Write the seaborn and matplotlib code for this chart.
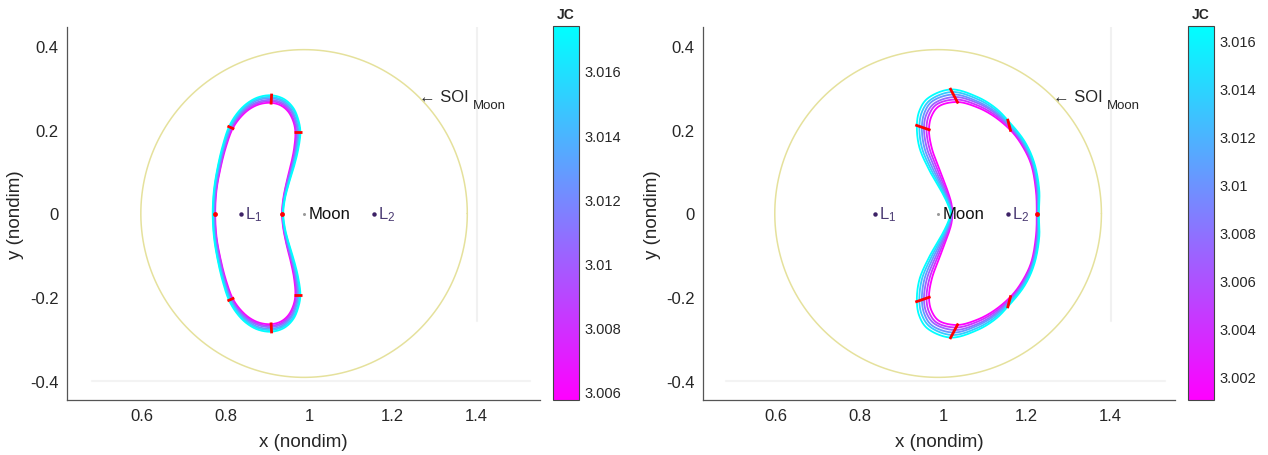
import numpy as np
import pandas as pd
import matplotlib
matplotlib.use("Agg")
import matplotlib.pyplot as plt
import seaborn as sns
from matplotlib.colors import Normalize
from matplotlib.cm import ScalarMappable

# ---------------- data ----------------
L1_X, L2_X, MOON_X = 0.8369, 1.1557, 0.98785
SOI_RADIUS = 0.391

# Left panel: family of orbits (upper half control points, mirrored in y)
left_jc = [3.0058, 3.0081, 3.0104, 3.0127, 3.0150, 3.0174]
left_x = [
    [0.935, 0.938, 0.946, 0.956, 0.964, 0.967, 0.962, 0.950, 0.932, 0.909, 0.882, 0.857, 0.835, 0.817, 0.801, 0.788, 0.778, 0.775],
    [0.936, 0.939, 0.947, 0.958, 0.966, 0.969, 0.964, 0.952, 0.934, 0.909, 0.881, 0.855, 0.833, 0.815, 0.799, 0.787, 0.777, 0.774],
    [0.936, 0.940, 0.948, 0.959, 0.968, 0.972, 0.967, 0.955, 0.935, 0.909, 0.880, 0.854, 0.831, 0.813, 0.798, 0.785, 0.776, 0.773],
    [0.937, 0.940, 0.950, 0.961, 0.970, 0.974, 0.969, 0.957, 0.937, 0.910, 0.879, 0.852, 0.830, 0.812, 0.796, 0.784, 0.774, 0.771],
    [0.937, 0.941, 0.951, 0.962, 0.972, 0.977, 0.972, 0.960, 0.938, 0.910, 0.878, 0.851, 0.828, 0.810, 0.795, 0.782, 0.773, 0.770],
    [0.938, 0.942, 0.952, 0.964, 0.974, 0.979, 0.974, 0.962, 0.940, 0.910, 0.877, 0.849, 0.826, 0.808, 0.793, 0.781, 0.772, 0.769],
]
left_y = [
    [0.000, 0.035, 0.075, 0.115, 0.155, 0.195, 0.220, 0.243, 0.258, 0.264, 0.261, 0.249, 0.229, 0.203, 0.160, 0.110, 0.055, 0.000],
    [0.000, 0.035, 0.075, 0.115, 0.155, 0.195, 0.221, 0.245, 0.261, 0.268, 0.264, 0.251, 0.231, 0.204, 0.160, 0.110, 0.055, 0.000],
    [0.000, 0.035, 0.075, 0.114, 0.155, 0.195, 0.222, 0.247, 0.264, 0.271, 0.267, 0.254, 0.232, 0.205, 0.161, 0.110, 0.055, 0.000],
    [0.000, 0.035, 0.074, 0.114, 0.154, 0.195, 0.222, 0.248, 0.267, 0.275, 0.271, 0.256, 0.234, 0.205, 0.161, 0.111, 0.056, 0.000],
    [0.000, 0.035, 0.074, 0.113, 0.154, 0.195, 0.223, 0.250, 0.270, 0.278, 0.274, 0.259, 0.235, 0.206, 0.162, 0.111, 0.056, 0.000],
    [0.000, 0.035, 0.074, 0.113, 0.154, 0.195, 0.224, 0.252, 0.273, 0.282, 0.277, 0.261, 0.237, 0.207, 0.162, 0.111, 0.056, 0.000],
]
left_marks = [5, 9, 13]
left_dots = [0, 17]
left_clim = (3.00575, 3.0174)
left_cticks = [3.006, 3.008, 3.010, 3.012, 3.014, 3.016]
left_ctlabels = ["3.006", "3.008", "3.01", "3.012", "3.014", "3.016"]

# Right panel
right_jc = [3.0010, 3.0041, 3.0072, 3.0103, 3.0134, 3.0166]
right_x = [
    [1.022, 1.020, 1.013, 0.992, 0.973, 0.966, 0.972, 0.990, 1.034, 1.080, 1.120, 1.161, 1.186, 1.210, 1.222, 1.224],
    [1.021, 1.018, 1.010, 0.987, 0.967, 0.960, 0.966, 0.984, 1.031, 1.080, 1.121, 1.160, 1.188, 1.212, 1.224, 1.225],
    [1.020, 1.016, 1.007, 0.982, 0.961, 0.954, 0.960, 0.979, 1.028, 1.081, 1.122, 1.159, 1.190, 1.213, 1.225, 1.226],
    [1.020, 1.015, 1.005, 0.977, 0.955, 0.949, 0.955, 0.973, 1.024, 1.081, 1.123, 1.157, 1.191, 1.215, 1.227, 1.227],
    [1.019, 1.013, 1.002, 0.972, 0.949, 0.943, 0.949, 0.968, 1.021, 1.082, 1.124, 1.156, 1.193, 1.216, 1.228, 1.228],
    [1.018, 1.011, 0.999, 0.967, 0.943, 0.937, 0.943, 0.962, 1.018, 1.082, 1.125, 1.155, 1.195, 1.218, 1.230, 1.229],
]
right_y = [
    [0.000, 0.022, 0.047, 0.103, 0.155, 0.200, 0.232, 0.256, 0.266, 0.254, 0.233, 0.199, 0.167, 0.119, 0.055, 0.000],
    [0.000, 0.022, 0.047, 0.103, 0.156, 0.202, 0.235, 0.260, 0.272, 0.259, 0.237, 0.204, 0.168, 0.119, 0.055, 0.000],
    [0.000, 0.022, 0.047, 0.103, 0.156, 0.204, 0.237, 0.263, 0.278, 0.264, 0.241, 0.208, 0.169, 0.120, 0.055, 0.000],
    [0.000, 0.022, 0.047, 0.103, 0.157, 0.206, 0.240, 0.267, 0.284, 0.268, 0.244, 0.213, 0.170, 0.120, 0.056, 0.000],
    [0.000, 0.022, 0.047, 0.103, 0.157, 0.208, 0.242, 0.270, 0.290, 0.273, 0.248, 0.217, 0.171, 0.121, 0.056, 0.000],
    [0.000, 0.022, 0.047, 0.103, 0.158, 0.210, 0.245, 0.274, 0.296, 0.278, 0.252, 0.222, 0.172, 0.121, 0.056, 0.000],
]
right_marks = [5, 8, 11]
right_dots = [15]
right_clim = (3.0010, 3.0166)
right_cticks = [3.002, 3.004, 3.006, 3.008, 3.010, 3.012, 3.014, 3.016]
right_ctlabels = ["3.002", "3.004", "3.006", "3.008", "3.01", "3.012", "3.014", "3.016"]

x_ticks = [0.6, 0.8, 1.0, 1.2, 1.4]
x_ticklabels = ["0.6", "0.8", "1", "1.2", "1.4"]
y_ticks = [-0.4, -0.2, 0.0, 0.2, 0.4]
y_ticklabels = ["-0.4", "-0.2", "0", "0.2", "0.4"]

# ---------------- style ----------------
sns.set_style("white")
plt.rcParams["font.family"] = ["Liberation Sans", "DejaVu Sans"]
plt.rcParams["mathtext.fontset"] = "custom"
plt.rcParams["mathtext.rm"] = "Liberation Sans"
plt.rcParams["mathtext.it"] = "Liberation Sans"

AX_COL = "#555555"
TXT_COL = "#262626"
LBL_COL = "#4b3b73"


def closed_spline(px, py, n=24, alpha=0.5):
    """Centripetal Catmull-Rom through the closed control polygon."""
    P = np.column_stack([px, py])
    N = len(P)
    out = []
    for i in range(N):
        p0, p1, p2, p3 = P[(i - 1) % N], P[i], P[(i + 1) % N], P[(i + 2) % N]
        t0 = 0.0
        t1 = t0 + max(np.linalg.norm(p1 - p0), 1e-9) ** alpha
        t2 = t1 + max(np.linalg.norm(p2 - p1), 1e-9) ** alpha
        t3 = t2 + max(np.linalg.norm(p3 - p2), 1e-9) ** alpha
        t = np.linspace(t1, t2, n, endpoint=False)[:, None]
        A1 = (t1 - t) / (t1 - t0) * p0 + (t - t0) / (t1 - t0) * p1
        A2 = (t2 - t) / (t2 - t1) * p1 + (t - t1) / (t2 - t1) * p2
        A3 = (t3 - t) / (t3 - t2) * p2 + (t - t2) / (t3 - t2) * p3
        B1 = (t2 - t) / (t2 - t0) * A1 + (t - t0) / (t2 - t0) * A2
        B2 = (t3 - t) / (t3 - t1) * A2 + (t - t1) / (t3 - t1) * A3
        C = (t2 - t) / (t2 - t1) * B1 + (t - t1) / (t2 - t1) * B2
        out.append(C)
    out = np.vstack(out)
    out = np.vstack([out, out[:1]])
    return out[:, 0], out[:, 1]


def orbit_frame(xs, ys, jcs):
    rows = []
    for k, (ox, oy, jc) in enumerate(zip(xs, ys, jcs)):
        ox = np.asarray(ox)
        oy = np.asarray(oy)
        fx = np.concatenate([ox, ox[-2:0:-1]])
        fy = np.concatenate([oy, -oy[-2:0:-1]])
        sx, sy = closed_spline(fx, fy)
        rows.append(pd.DataFrame({"x": sx, "y": sy, "orbit": k, "jc": jc}))
    return pd.concat(rows, ignore_index=True)


def draw_panel(ax, cax, xs, ys, jcs, marks, dots, clim, cticks, ctlabels, xlim):
    # faint background artefact lines
    ax.plot([1.402, 1.402], [0.445, -0.256], color="#f1f1f1", lw=1.5, zorder=0)
    ax.plot([0.48, 1.53], [-0.40, -0.40], color="#f3f3f3", lw=1.5, zorder=0)

    # SOI circle
    th = np.linspace(0, 2 * np.pi, 400)
    ax.plot(MOON_X + SOI_RADIUS * np.cos(th), SOI_RADIUS * np.sin(th),
            color="#e5e19c", lw=1.1, zorder=1)

    df = orbit_frame(xs, ys, jcs)
    sns.lineplot(data=df, x="x", y="y", hue="jc", units="orbit", estimator=None,
                 sort=False, palette="cool_r", hue_norm=clim, lw=1.3,
                 legend=False, ax=ax, zorder=3)

    # red markers: short segments across the family at matching phases
    for idx in marks:
        mx = np.array([o[idx] for o in xs])
        my = np.array([o[idx] for o in ys])
        a = np.array([mx[0], my[0]])
        b = np.array([mx[-1], my[-1]])
        d = b - a
        ext = 0.004 / max(np.linalg.norm(d), 1e-9)
        p0 = a - d * ext
        p1 = b + d * ext
        for sgn in (1, -1):
            ax.plot([p0[0], p1[0]], [sgn * p0[1], sgn * p1[1]], color="red",
                    lw=2.0, solid_capstyle="butt", zorder=4)
    for idx in dots:
        ax.plot([xs[0][idx]], [0.0], "o", color="red", ms=3.5, mec="none", zorder=5)

    # libration points and Moon
    ax.plot([L1_X, L2_X], [0, 0], "o", color="#3d2266", ms=3.2, mec="none", zorder=6)
    ax.plot([MOON_X], [0], "o", color="#9a9a9a", ms=2.2, mec="none", zorder=6)
    ax.text(L1_X + 0.009, 0.0, r"L$_{\mathregular{1}}$", color=LBL_COL, fontsize=12,
            ha="left", va="center", zorder=7)
    ax.text(L2_X + 0.010, 0.0, r"L$_{\mathregular{2}}$", color=LBL_COL, fontsize=12,
            ha="left", va="center", zorder=7)
    ax.text(MOON_X + 0.010, 0.0, "Moon", color="#111111", fontsize=12,
            ha="left", va="center", zorder=7)

    # SOI label
    ax.text(1.264, 0.279, "\u2190 SOI", color=TXT_COL, fontsize=12,
            ha="left", va="center", family=["Liberation Sans", "DejaVu Sans"])
    ax.text(1.392, 0.258, "Moon", color=TXT_COL, fontsize=9.5, ha="left", va="center")

    ax.set_xlim(*xlim)
    ax.set_ylim(-0.445, 0.445)
    ax.set_xticks(x_ticks)
    ax.set_xticklabels(x_ticklabels)
    ax.set_yticks(y_ticks)
    ax.set_yticklabels(y_ticklabels)
    ax.tick_params(direction="in", length=4, width=0.8, color=AX_COL,
                   labelsize=12, labelcolor=TXT_COL, pad=6)
    for s in ["top", "right"]:
        ax.spines[s].set_visible(False)
    for s in ["left", "bottom"]:
        ax.spines[s].set_color(AX_COL)
        ax.spines[s].set_linewidth(0.9)
    ax.set_xlabel("x (nondim)", fontsize=13.5, color=TXT_COL, va="center")
    ax.set_ylabel("y (nondim)", fontsize=13.5, color=TXT_COL, va="center")
    ax.xaxis.set_label_coords(0.5, -0.112)
    ax.yaxis.set_label_coords(-0.108, 0.5)

    # colorbar
    sm = ScalarMappable(norm=Normalize(*clim), cmap="cool_r")
    cb = plt.colorbar(sm, cax=cax)
    cb.set_ticks(cticks)
    cb.set_ticklabels(ctlabels)
    cb.outline.set_edgecolor("#444444")
    cb.outline.set_linewidth(0.8)
    cax.tick_params(direction="in", length=3, width=0.8, color="#333333",
                    labelsize=10.5, labelcolor=TXT_COL, pad=4)
    cax.set_title("JC", fontsize=10, fontweight="bold", color=TXT_COL, pad=6)


W, H = 1268, 456
fig = plt.figure(figsize=(W / 100, H / 100), dpi=100)
fig.patch.set_facecolor("white")


def fig_rect(x0, y0, x1, y1):
    return [x0 / W, 1 - y1 / H, (x1 - x0) / W, (y1 - y0) / H]


axL = fig.add_axes(fig_rect(67, 28, 540, 401))
caxL = fig.add_axes(fig_rect(553, 27, 579, 401))
axR = fig.add_axes(fig_rect(703, 28, 1175, 401))
caxR = fig.add_axes(fig_rect(1188, 27, 1214, 401))

draw_panel(axL, caxL, left_x, left_y, left_jc, left_marks, left_dots,
           left_clim, left_cticks, left_ctlabels, (0.42, 1.553))
draw_panel(axR, caxR, right_x, right_y, right_jc, right_marks, right_dots,
           right_clim, right_cticks, right_ctlabels, (0.425, 1.555))

fig.savefig("out.png", dpi=100, facecolor="white")
